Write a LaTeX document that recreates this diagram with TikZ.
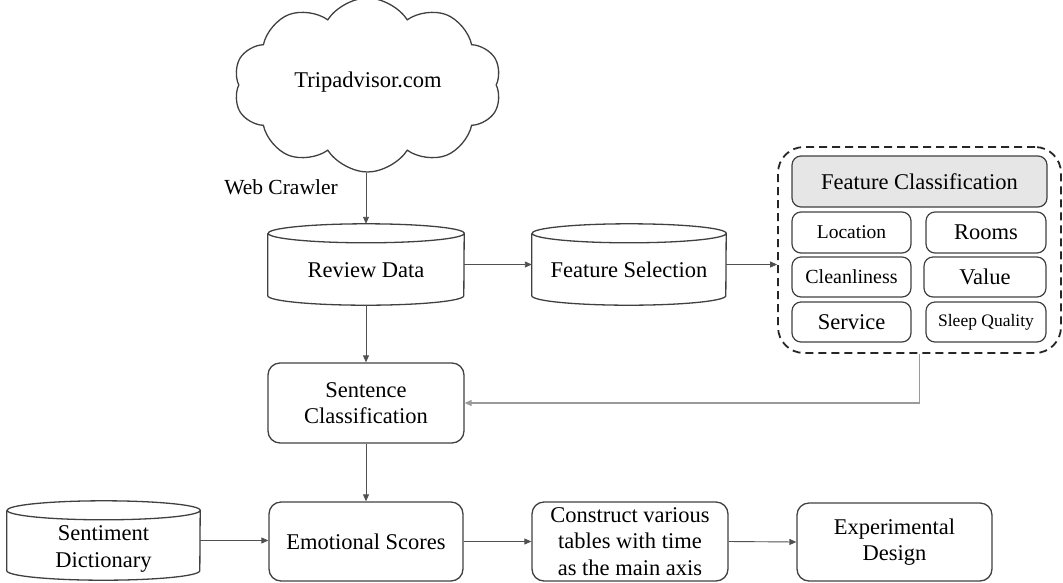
\documentclass[tikz,border=0pt]{standalone}
\usepackage{fontspec}
\setmainfont{Liberation Serif}
\usetikzlibrary{arrows.meta,shapes.symbols,calc}
\definecolor{boxc}{HTML}{404040}
\definecolor{linec}{HTML}{505050}
\definecolor{fbc}{HTML}{9A9A9A}
\definecolor{hdrfill}{HTML}{E6E6E6}
\tikzset{
  rbox/.style={draw=boxc, line width=1.3pt, rounded corners=12pt, align=center, inner sep=0pt,
    font=\fontsize{22.5}{26.5}\selectfont},
  fbox/.style={draw=boxc, line width=1.2pt, rounded corners=9pt, align=center, inner sep=0pt,
    font=\fontsize{22.5}{26.5}\selectfont},
  dbbox/.style={inner sep=0pt},
  dbtext/.style={align=center, inner sep=0pt, font=\fontsize{22.5}{26.5}\selectfont},
  dbline/.style={draw=boxc, line width=1.3pt},
  conn/.style={draw=linec, line width=0.9pt, -{Triangle[length=7pt,width=6pt]}},
  fbconn/.style={draw=fbc, line width=1.1pt, -{Triangle[length=7pt,width=6pt]}},
  grp/.style={draw=black!85, line width=1.8pt, dash pattern=on 8pt off 5pt, rounded corners=26pt, inner sep=0pt},
}
% cylinder: name, cx, cy, w, h, ry
\newcommand\mydb[6]{%
  \node[dbbox, minimum width=#4pt, minimum height=#5pt] (#1) at (#2,#3) {};
  \draw[dbline] ([yshift=-#6pt]#1.north west) -- ([yshift=#6pt]#1.south west)
     arc[start angle=180, end angle=360, x radius=#4pt/2, y radius=#6pt]
     -- ([yshift=-#6pt]#1.north east)
     arc[start angle=0, end angle=360, x radius=#4pt/2, y radius=#6pt];
}
\begin{document}
\begin{tikzpicture}[x=1pt,y=1pt]
\useasboundingbox (0,0) rectangle (1063,-582);

% cloud
\node[cloud, draw=boxc, line width=1.3pt, cloud puffs=10, cloud puff arc=115, cloud ignores aspect,
  minimum width=268pt, minimum height=174pt, inner sep=0pt] (cl) at (367.5,-85) {};
\node[dbtext] (clt) at (368,-82) {Tripadvisor.com};
\node[dbtext, font=\fontsize{21.5}{26}\selectfont] (wc) at (281,-187) {Web Crawler};

% databases
\mydb{rd}{366}{-264.5}{196}{81}{9.5}
\node[dbtext] (rdt) at (366,-270) {Review Data};
\mydb{fs}{629}{-264.5}{194}{81}{9.5}
\node[dbtext] (fst) at (629,-270) {Feature Selection};
\mydb{sd}{103.5}{-540.5}{193}{79}{9.5}
\node[dbtext] (sdt) at (103.5,-549) {Sentiment\\Dictionary};

% group
\node[grp, minimum width=283pt, minimum height=206pt] (grp) at (919.5,-250) {};
\node[fbox, fill=hdrfill, minimum width=255pt, minimum height=51pt] (fc) at (919.5,-181.5) {Feature Classification};
\node[fbox, minimum width=119pt, minimum height=41pt, font=\fontsize{19.5}{22}\selectfont] (loc) at (851.5,-232.5) {Location};
\node[fbox, minimum width=120pt, minimum height=41pt] (room) at (986,-232.5) {Rooms};
\node[fbox, minimum width=119pt, minimum height=40pt, font=\fontsize{20}{22}\selectfont] (clean) at (851.5,-277) {Cleanliness};
\node[fbox, minimum width=122pt, minimum height=40pt] (val) at (985,-277) {Value};
\node[fbox, minimum width=119pt, minimum height=40pt] (serv) at (851.5,-322) {Service};
\node[fbox, minimum width=120pt, minimum height=40pt, font=\fontsize{17.5}{20}\selectfont] (sleep) at (986,-322) {Sleep Quality};

% process boxes
\node[rbox, minimum width=196pt, minimum height=80pt] (sc) at (366,-403) {Sentence\\Classification};
\node[rbox, minimum width=194pt, minimum height=79pt] (es) at (366,-541.5) {Emotional Scores};
\node[rbox, minimum width=196pt, minimum height=79pt] (ct) at (630,-541.5) {\raisebox{-1.5pt}{\parbox{190pt}{\centering Construct various\\tables with time\\as the main axis}}};
\node[rbox, minimum width=195pt, minimum height=78pt] (ed) at (894.5,-542) {Experimental\\Design};

% connectors
\draw[conn] (cl.south -| rd.north) -- (rd.north);
\draw[conn] (rd.east) -- (fs.west);
\draw[conn] (fs.east) -- (fs.east -| grp.west);
\draw[conn] (rd.south) -- (sc.north);
\draw[fbconn] (grp.south) |- (sc.east);
\draw[conn] (sc.south) -- (es.north);
\draw[conn] (sd.east) -- (sd.east -| es.west);
\draw[conn] (es.east) -- (ct.west);
\draw[conn] (ct.east) -- (ed.west);
\end{tikzpicture}
\end{document}
